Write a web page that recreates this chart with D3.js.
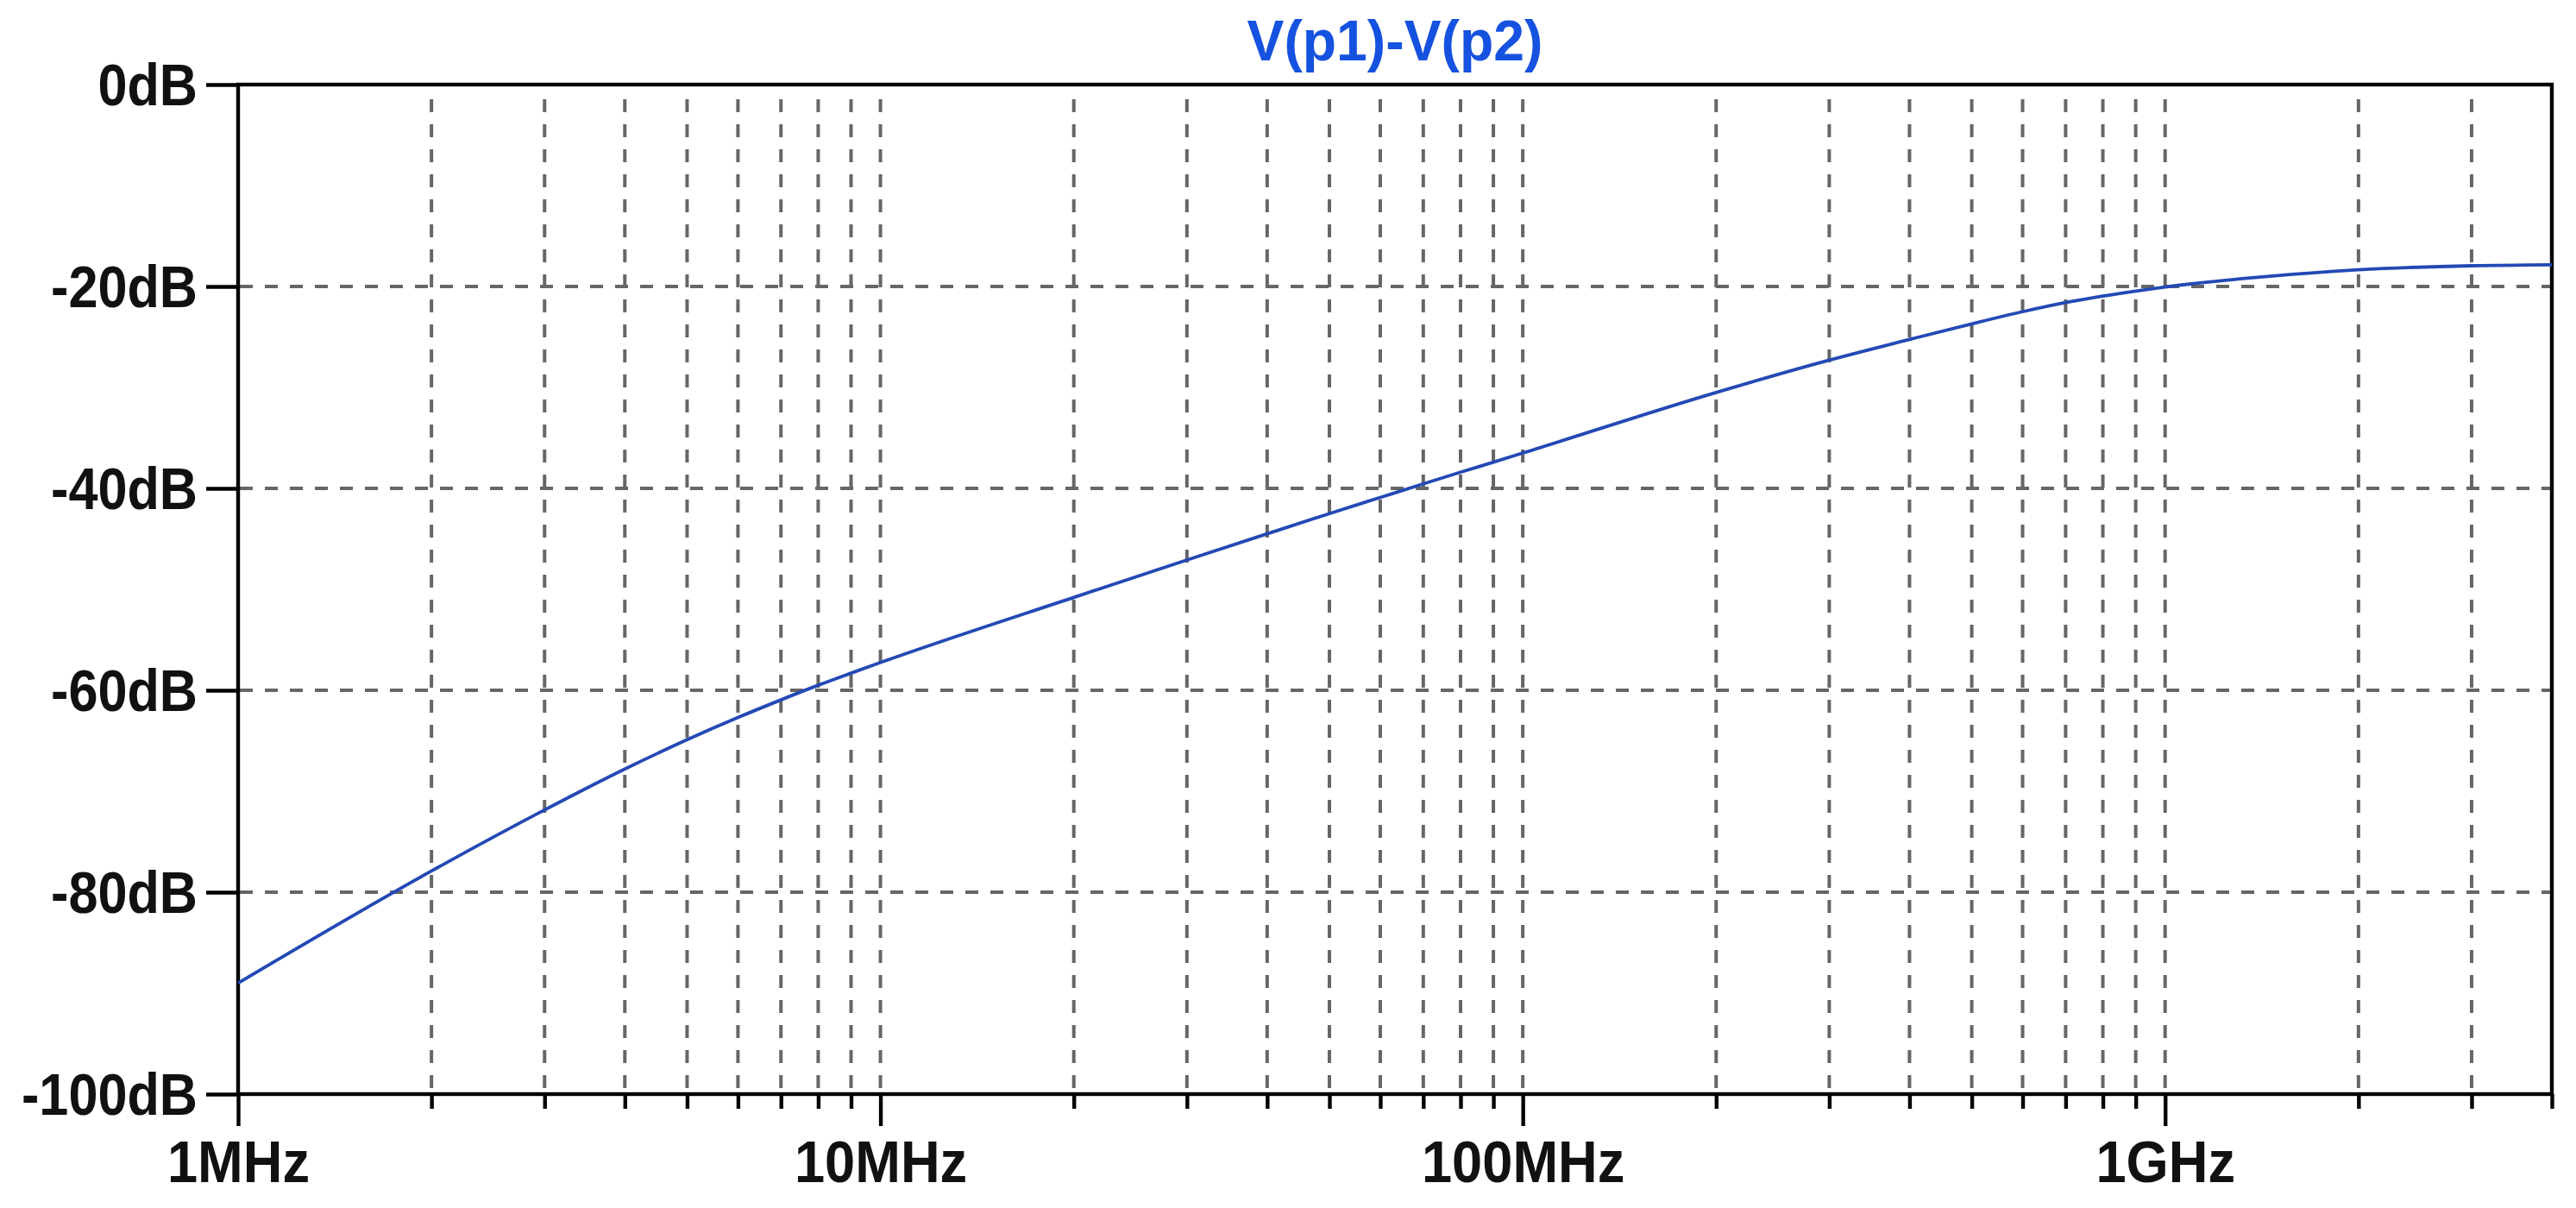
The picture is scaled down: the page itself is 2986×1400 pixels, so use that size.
<!DOCTYPE html>
<html>
<head>
<meta charset="utf-8">
<script src="https://cdn.jsdelivr.net/npm/d3@7"></script>
<style>
  body { margin: 0; background: #fff; }
  text { font-family: "Liberation Sans", Arial, sans-serif; font-weight: bold; }
</style>
</head>
<body>
<div id="chart"></div>
<script>
// frequency sweep
const freqs = [1e6, 2e6, 3e6, 4e6, 5e6, 6e6, 7e6, 8e6, 9e6,
  10e6, 20e6, 30e6, 40e6, 50e6, 60e6, 70e6, 80e6, 90e6,
  100e6, 200e6, 300e6, 400e6, 500e6, 600e6, 700e6, 800e6, 900e6,
  1e9, 1.15e9, 1.33e9, 1.58e9, 2e9, 3e9, 4e9];
const gainDb = [-89.0, -77.9, -71.85, -67.8, -64.9, -62.7, -60.95, -59.5, -58.3,
  -57.25, -50.8, -47.1, -44.5, -42.5, -40.9, -39.55, -38.4, -37.4,
  -36.5, -30.5, -27.3, -25.25, -23.7, -22.5, -21.6, -20.95, -20.45,
  -20.05, -19.6, -19.2, -18.8, -18.35, -17.95, -17.85];

const traceName = 'V(p1)-V(p2)';
const xDomain = [1e6, 4e9];
const yDomain = [-100, 0];
const majorFreqs = [1e6, 10e6, 100e6, 1e9];
const majorLabels = ['1MHz', '10MHz', '100MHz', '1GHz'];
const yTicks = [0, -20, -40, -60, -80, -100];
const yLabels = ['0dB', '-20dB', '-40dB', '-60dB', '-80dB', '-100dB'];

const W = 2986, H = 1400;
const plotL = 276, plotR = 2958, plotT = 98, plotB = 1268;
const axisW = 4.4;

const svg = d3.select('#chart').append('svg')
  .attr('width', W).attr('height', H);

const x = d3.scaleLog().domain(xDomain).range([plotL, plotR]);
const y = d3.scaleLinear().domain(yDomain).range([plotB, plotT]);

// minor ticks: 2..9 of every decade, up to the end of the sweep
const minorFreqs = [];
[1e6, 1e7, 1e8, 1e9].forEach(dec => {
  for (let k = 2; k <= 9; k++) {
    const f = k * dec;
    if (f <= xDomain[1]) minorFreqs.push(f);
  }
});

// grid
const grid = svg.append('g')
  .attr('stroke', '#666').attr('stroke-width', 4)
  .attr('stroke-dasharray', '15,14');
grid.selectAll('line.v')
  .data(minorFreqs.concat(majorFreqs).filter(f => f > xDomain[0] && f < xDomain[1]))
  .join('line').attr('class', 'v')
  .attr('x1', d => x(d)).attr('x2', d => x(d))
  .attr('y1', plotT + 17).attr('y2', plotB);
grid.selectAll('line.h')
  .data(yTicks.filter(v => v > yDomain[0] && v < yDomain[1]))
  .join('line').attr('class', 'h')
  .attr('y1', d => y(d)).attr('y2', d => y(d))
  .attr('x1', plotL + 2).attr('x2', plotR);

// frame
svg.append('rect')
  .attr('x', plotL).attr('y', plotT)
  .attr('width', plotR - plotL).attr('height', plotB - plotT)
  .attr('fill', 'none').attr('stroke', '#000').attr('stroke-width', axisW);

function styleAxis(g) {
  g.select('.domain').remove();
  g.selectAll('.tick line').attr('stroke', '#000').attr('stroke-width', axisW);
  g.selectAll('.tick text')
    .attr('fill', '#111')
    .attr('font-size', 68);
}

// x axis minor ticks
svg.append('g')
  .attr('transform', `translate(0,${plotB})`)
  .call(d3.axisBottom(x).tickValues(minorFreqs).tickSize(17).tickFormat(''))
  .call(styleAxis);

// x axis decade ticks with labels
svg.append('g')
  .attr('transform', `translate(0,${plotB})`)
  .call(d3.axisBottom(x).tickValues(majorFreqs).tickSize(37).tickPadding(17)
    .tickFormat((d, i) => majorLabels[i]))
  .call(styleAxis)
  .call(g => g.selectAll('.tick text').attr('transform', 'scale(0.93,1)'));

// y axis
svg.append('g')
  .attr('transform', `translate(${plotL},0)`)
  .call(d3.axisLeft(y).tickValues(yTicks).tickSize(37).tickPadding(10)
    .tickFormat((d, i) => yLabels[i]))
  .call(styleAxis)
  .call(g => g.selectAll('.tick text').attr('transform', 'scale(0.9,1)')
    .attr('x', -47 / 0.9).attr('dy', '0.34em'));

// trace
const line = d3.line()
  .x((d, i) => x(freqs[i]))
  .y(d => y(d))
  .curve(d3.curveMonotoneX);
svg.append('path')
  .datum(gainDb)
  .attr('d', line)
  .attr('fill', 'none')
  .attr('stroke', '#2349b5')
  .attr('stroke-width', 3.8);

// title
svg.append('text')
  .attr('transform', `translate(${(plotL + plotR) / 2},70) scale(0.96,1)`)
  .attr('text-anchor', 'middle')
  .attr('font-size', 67)
  .attr('fill', '#1652e0')
  .text(traceName);
</script>
</body>
</html>
